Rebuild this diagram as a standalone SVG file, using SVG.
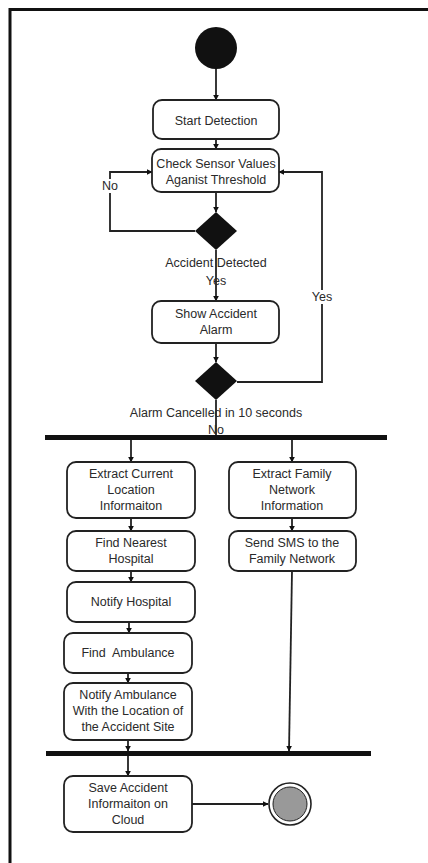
<svg xmlns="http://www.w3.org/2000/svg" width="428" height="863" viewBox="0 0 428 863">
<style>
.box{fill:#fff;stroke:#222;stroke-width:1.8}
.t{font-family:"Liberation Sans",Arial,sans-serif;font-size:12.5px;fill:#2a2a2a;text-anchor:middle}
.c{fill:none;stroke:#222;stroke-width:1.8}
.bar{fill:#111}
</style>
<defs>
<marker id="ah" viewBox="0 0 10 10" refX="9" refY="5" markerWidth="6" markerHeight="6" orient="auto" markerUnits="userSpaceOnUse">
<path d="M0,0 L10,5 L0,10 z" fill="#111"/>
</marker>
</defs>
<rect width="428" height="863" fill="#fff"/>
<path d="M10,863 V9.5 H428" fill="none" stroke="#111" stroke-width="3"/>

<g id="connectors">
<path class="c" d="M216,69 V100" marker-end="url(#ah)"/>
<path class="c" d="M216,139 V149" marker-end="url(#ah)"/>
<path class="c" d="M216,192 V212" marker-end="url(#ah)"/>
<path class="c" d="M195,231 H110 V172 H152" marker-end="url(#ah)"/>
<path class="c" d="M216,250 V301" marker-end="url(#ah)"/>
<path class="c" d="M216,343 V362" marker-end="url(#ah)"/>
<path class="c" d="M237,382 H322 V172 H279" marker-end="url(#ah)"/>
<path class="c" d="M216,400 V435"/>
<path class="c" d="M131,440 V462" marker-end="url(#ah)"/>
<path class="c" d="M292,440 V462" marker-end="url(#ah)"/>
<path class="c" d="M131,518 V531" marker-end="url(#ah)"/>
<path class="c" d="M292,518 V531" marker-end="url(#ah)"/>
<path class="c" d="M131,571 V582" marker-end="url(#ah)"/>
<path class="c" d="M129,622 V633" marker-end="url(#ah)"/>
<path class="c" d="M128,673 V683" marker-end="url(#ah)"/>
<path class="c" d="M128,740 V751" marker-end="url(#ah)"/>
<path class="c" d="M292,571 L289,751" marker-end="url(#ah)"/>
<path class="c" d="M128,756 V776" marker-end="url(#ah)"/>
<path class="c" d="M192,804 H268" marker-end="url(#ah)"/>
<rect x="101" y="179" width="18" height="14" fill="#fff"/>
<text class="t" x="110" y="190">No</text>
<rect x="311" y="290" width="22" height="14" fill="#fff"/>
<text class="t" x="322" y="301">Yes</text>
<text class="t" x="216" y="267">Accident Detected</text>
<text class="t" x="216" y="285">Yes</text>
<text class="t" x="216" y="417">Alarm Cancelled in 10 seconds</text>
<text class="t" x="216" y="434">No</text>
</g>

<g id="start"><circle cx="216" cy="48" r="21" fill="#111"/></g>
<g id="startDetection"><rect class="box" x="153" y="100" width="126" height="39" rx="9"/><text class="t" x="216" y="125">Start Detection</text></g>
<g id="checkSensor"><rect class="box" x="152" y="149" width="127" height="43" rx="9"/><text class="t" x="216" y="168">Check Sensor Values</text><text class="t" x="216" y="184">Aganist Threshold</text></g>
<g id="decision1"><path d="M216,212 L237,231 L216,250 L195,231 z" fill="#111"/></g>
<g id="showAlarm"><rect class="box" x="152" y="301" width="127" height="42" rx="9"/><text class="t" x="216" y="318">Show Accident</text><text class="t" x="216" y="334">Alarm</text></g>
<g id="decision2"><path d="M216,362 L237,381 L216,400 L195,381 z" fill="#111"/></g>
<g id="fork"><rect class="bar" x="45" y="435" width="342" height="5"/></g>
<g id="extractLocation"><rect class="box" x="67" y="462" width="128" height="56" rx="9"/><text class="t" x="131" y="478">Extract Current</text><text class="t" x="131" y="494">Location</text><text class="t" x="131" y="510">Informaiton</text></g>
<g id="extractFamily"><rect class="box" x="229" y="462" width="127" height="56" rx="9"/><text class="t" x="292" y="478">Extract Family</text><text class="t" x="292" y="494">Network</text><text class="t" x="292" y="510">Information</text></g>
<g id="findHospital"><rect class="box" x="67" y="531" width="128" height="40" rx="9"/><text class="t" x="131" y="547">Find Nearest</text><text class="t" x="131" y="563">Hospital</text></g>
<g id="sendSMS"><rect class="box" x="229" y="531" width="127" height="40" rx="9"/><text class="t" x="292" y="547">Send SMS to the</text><text class="t" x="292" y="563">Family Network</text></g>
<g id="notifyHospital"><rect class="box" x="67" y="582" width="128" height="40" rx="9"/><text class="t" x="131" y="606">Notify Hospital</text></g>
<g id="findAmbulance"><rect class="box" x="64" y="633" width="128" height="40" rx="9"/><text class="t" x="128" y="657" style="white-space:pre">Find  Ambulance</text></g>
<g id="notifyAmbulance"><rect class="box" x="64" y="683" width="128" height="57" rx="9"/><text class="t" x="128" y="699">Notify Ambulance</text><text class="t" x="128" y="715">With the Location of</text><text class="t" x="128" y="731">the Accident Site</text></g>
<g id="join"><rect class="bar" x="46" y="751" width="325" height="5"/></g>
<g id="saveCloud"><rect class="box" x="64" y="776" width="128" height="56" rx="9"/><text class="t" x="128" y="792">Save Accident</text><text class="t" x="128" y="808">Informaiton on</text><text class="t" x="128" y="824">Cloud</text></g>
<g id="end"><circle cx="290" cy="804" r="21" fill="#fff" stroke="#222" stroke-width="1.6"/><circle cx="290" cy="804" r="17" fill="#999" stroke="#222" stroke-width="1"/></g>
</svg>
